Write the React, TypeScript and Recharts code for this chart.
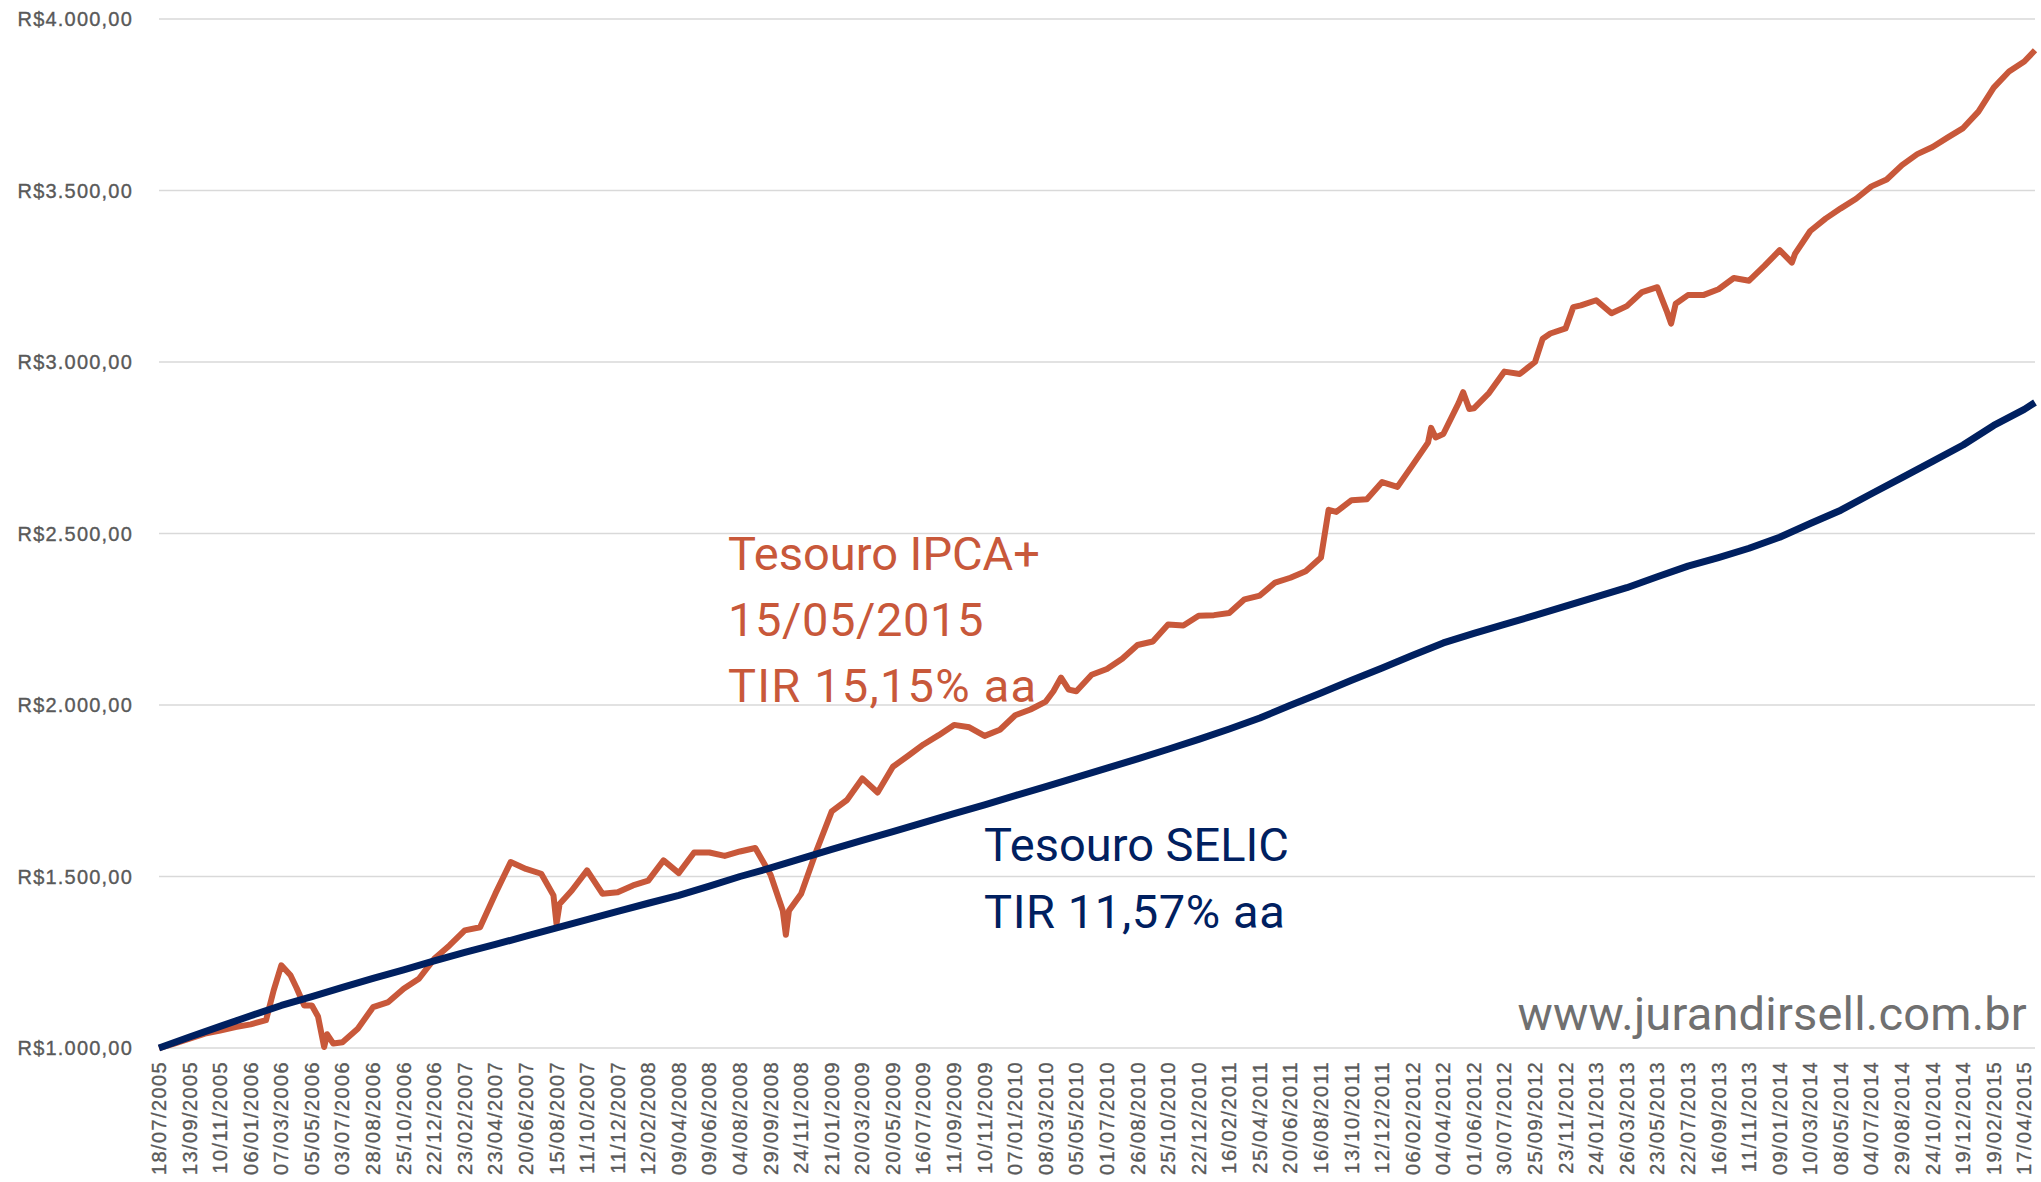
import { LineChart, Line, XAxis, YAxis, CartesianGrid } from "recharts";

// rótulos do eixo X (um a cada ~40 pregões)
const dates = [
  "18/07/2005", "13/09/2005", "10/11/2005", "06/01/2006", "07/03/2006", "05/05/2006",
  "03/07/2006", "28/08/2006", "25/10/2006", "22/12/2006", "23/02/2007", "23/04/2007",
  "20/06/2007", "15/08/2007", "11/10/2007", "11/12/2007", "12/02/2008", "09/04/2008",
  "09/06/2008", "04/08/2008", "29/09/2008", "24/11/2008", "21/01/2009", "20/03/2009",
  "20/05/2009", "16/07/2009", "11/09/2009", "10/11/2009", "07/01/2010", "08/03/2010",
  "05/05/2010", "01/07/2010", "26/08/2010", "25/10/2010", "22/12/2010", "16/02/2011",
  "25/04/2011", "20/06/2011", "16/08/2011", "13/10/2011", "12/12/2011", "06/02/2012",
  "04/04/2012", "01/06/2012", "30/07/2012", "25/09/2012", "23/11/2012", "24/01/2013",
  "26/03/2013", "23/05/2013", "22/07/2013", "16/09/2013", "11/11/2013", "09/01/2014",
  "10/03/2014", "08/05/2014", "04/07/2014", "29/08/2014", "24/10/2014", "19/12/2014",
  "19/02/2015", "17/04/2015",
];

const yTicks = [1000, 1500, 2000, 2500, 3000, 3500, 4000];
const yTickLabels = [
  "R$1.000,00", "R$1.500,00", "R$2.000,00", "R$2.500,00",
  "R$3.000,00", "R$3.500,00", "R$4.000,00",
];

// [posição no eixo (índice do rótulo), valor]
const ipca: [number, number][] = [
  [0, 1000], [0.5, 1013], [1, 1027], [1.5, 1042], [2, 1051], [2.5, 1061], [3, 1069],
  [3.5, 1081], [3.75, 1168], [4, 1241], [4.3, 1212], [4.5, 1175], [4.75, 1124], [5, 1124],
  [5.2, 1092], [5.4, 1003], [5.5, 1040], [5.7, 1013], [6, 1017], [6.5, 1056], [7, 1119],
  [7.5, 1134], [8, 1173], [8.5, 1202], [9, 1260], [9.5, 1299], [10, 1343], [10.5, 1352],
  [11, 1450], [11.5, 1542], [12, 1522], [12.5, 1508], [12.9, 1445], [13, 1362], [13.1, 1420],
  [13.5, 1459], [14, 1518], [14.5, 1450], [15, 1454], [15.5, 1474], [16, 1488], [16.5, 1547],
  [17, 1510], [17.5, 1570], [18, 1570], [18.5, 1560], [19, 1573], [19.5, 1583], [20, 1505],
  [20.4, 1400], [20.5, 1330], [20.6, 1400], [21, 1450], [21.5, 1575], [22, 1690], [22.5, 1723],
  [23, 1786], [23.5, 1745], [24, 1820], [24.5, 1852], [25, 1885], [25.5, 1912], [26, 1942],
  [26.5, 1935], [27, 1910], [27.5, 1928], [28, 1970], [28.5, 1987], [29, 2010], [29.25, 2040],
  [29.5, 2080], [29.75, 2045], [30, 2040], [30.5, 2088], [31, 2105], [31.5, 2135], [32, 2175],
  [32.5, 2185], [33, 2235], [33.5, 2232], [34, 2260], [34.5, 2262], [35, 2268], [35.5, 2308],
  [36, 2319], [36.5, 2357], [37, 2371], [37.5, 2390], [38, 2430], [38.25, 2569], [38.5, 2563],
  [39, 2597], [39.5, 2600], [40, 2650], [40.5, 2636], [41, 2700], [41.5, 2765], [41.6, 2808],
  [41.75, 2780], [42, 2790], [42.5, 2880], [42.65, 2912], [42.85, 2863], [43, 2865], [43.5, 2910],
  [44, 2972], [44.5, 2965], [45, 3000], [45.25, 3068], [45.5, 3083], [46, 3098], [46.25, 3160],
  [46.5, 3165], [47, 3180], [47.5, 3142], [48, 3163], [48.5, 3204], [49, 3218], [49.3, 3150],
  [49.45, 3112], [49.6, 3170], [50, 3195], [50.5, 3195], [51, 3212], [51.5, 3245], [52, 3237],
  [52.5, 3280], [53, 3326], [53.4, 3290], [53.5, 3315], [54, 3382], [54.5, 3418], [55, 3448],
  [55.5, 3476], [56, 3512], [56.5, 3532], [57, 3574], [57.5, 3606], [58, 3627], [58.5, 3655],
  [59, 3682], [59.5, 3730], [60, 3800], [60.5, 3847], [61, 3876], [61.35, 3909],
];

// um valor por rótulo de data, mais o último pregão
const selic = [
  1000, 1032, 1063, 1094, 1124, 1150, 1177, 1203, 1228, 1254, 1279, 1302, 1326, 1350,
  1374, 1398, 1422, 1445, 1472, 1500, 1525, 1552, 1579, 1605, 1631, 1657, 1683, 1709,
  1736, 1762, 1789, 1816, 1843, 1871, 1900, 1930, 1962, 1999, 2035, 2072, 2108, 2145,
  2181, 2209, 2235, 2261, 2288, 2315, 2342, 2374, 2405, 2430, 2457, 2489, 2529, 2568,
  2616, 2663, 2710, 2758, 2815, 2862,
];
const lastT = 61.35;
const selicLast = 2882;

const ORANGE = "#C8583A";
const NAVY = "#002060";
const AXIS_FONT = "'Liberation Sans', Arial, sans-serif";

const ipcaData = ipca.map(([t, v]) => ({ t, v }));
const selicData = [...selic.map((v, i) => ({ t: i, v })), { t: lastT, v: selicLast }];

function XTick({ x, y, payload }: any) {
  return (
    <text
      x={x}
      y={y}
      transform={`rotate(-90 ${x} ${y})`}
      textAnchor="end"
      dominantBaseline="central"
      fill="#595959"
      stroke="#595959"
      strokeWidth={0.35}
      fontSize={20}
      letterSpacing={1.4}
      fontFamily={AXIS_FONT}
    >
      {dates[payload.value]}
    </text>
  );
}

function YTick({ x, y, payload }: any) {
  const i = yTicks.indexOf(payload.value);
  return (
    <text
      x={x}
      y={y}
      textAnchor="end"
      dominantBaseline="central"
      fill="#595959"
      stroke="#595959"
      strokeWidth={0.35}
      fontSize={20}
      letterSpacing={1.2}
      fontFamily={AXIS_FONT}
    >
      {yTickLabels[i]}
    </text>
  );
}

export default function App() {
  return (
    <div style={{ position: "relative", width: 2041, height: 1182, background: "#fff" }}>
      <style>{"body{margin:0}"}</style>
      <LineChart
        width={2041}
        height={1182}
        margin={{ top: 19, right: 6, bottom: 0, left: 0 }}
      >
        <CartesianGrid vertical={false} stroke="#D9D9D9" strokeWidth={1.5} />
        <XAxis
          dataKey="t"
          type="number"
          domain={[0, lastT]}
          ticks={dates.map((_, i) => i)}
          interval={0}
          height={134}
          tickSize={0}
          tickMargin={13}
          tickLine={false}
          axisLine={false}
          tick={<XTick />}
        />
        <YAxis
          type="number"
          domain={[1000, 4000]}
          ticks={yTicks}
          width={159}
          tickSize={0}
          tickMargin={26}
          tickLine={false}
          axisLine={false}
          tick={<YTick />}
        />
        <Line
          data={ipcaData}
          dataKey="v"
          type="linear"
          stroke={ORANGE}
          strokeWidth={6}
          strokeLinejoin="round"
          dot={false}
          isAnimationActive={false}
        />
        <Line
          data={selicData}
          dataKey="v"
          type="linear"
          stroke={NAVY}
          strokeWidth={7}
          strokeLinejoin="round"
          dot={false}
          isAnimationActive={false}
        />
      </LineChart>
      <svg
        width={2041}
        height={1182}
        style={{ position: "absolute", left: 0, top: 0, pointerEvents: "none" }}
        fontFamily="Roboto, sans-serif"
      >
        <g fill={ORANGE} fontSize={47}>
          <text x={728} y={570}>Tesouro IPCA+</text>
          <text x={728} y={636} letterSpacing={0.6}>15/05/2015</text>
          <text x={728} y={702} letterSpacing={1.2}>TIR 15,15% aa</text>
        </g>
        <g fill={NAVY} fontSize={47}>
          <text x={984} y={861}>Tesouro SELIC</text>
          <text x={984} y={928} letterSpacing={0.6}>TIR 11,57% aa</text>
        </g>
        <text x={2027} y={1030} textAnchor="end" fill="#707070" fontSize={47} letterSpacing={0.2}>
          www.jurandirsell.com.br
        </text>
      </svg>
    </div>
  );
}
